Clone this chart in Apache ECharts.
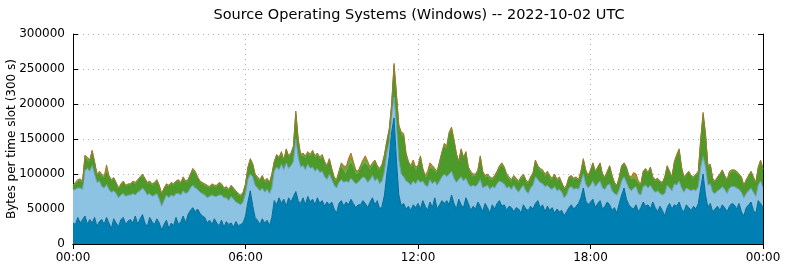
<!DOCTYPE html>
<html>
<head>
<meta charset="utf-8">
<script src="https://cdn.jsdelivr.net/npm/echarts@6/dist/echarts.min.js"></script>
<style>
html,body{margin:0;padding:0;background:#fff;}
#chart{width:785px;height:268px;}
</style>
</head>
<body>
<div id="chart"></div>
<script>
// Values in thousands of bytes per 5-minute slot (289 slots: 00:00 .. 24:00)
const darkBlueK = [
30,28,38,30,35,40,28,35,30,38,25,32,
35,28,38,30,22,36,30,25,35,38,28,33,
35,30,40,28,36,42,30,25,38,32,28,36,
30,20,28,34,22,30,26,38,28,32,40,30,
42,48,52,46,50,44,40,38,30,34,28,36,
30,26,34,24,32,28,30,24,32,26,28,30,
40,60,76,55,38,34,28,36,30,34,26,38,
62,56,66,58,64,54,66,60,68,75,62,58,
66,56,68,60,64,56,66,58,62,54,60,56,
60,50,44,58,62,54,60,56,64,58,52,56,
56,62,58,52,60,66,56,62,50,54,70,100,
125,160,180,120,70,55,58,50,54,48,56,52,
58,50,62,54,48,60,52,66,50,56,62,58,
62,56,70,58,50,64,56,52,66,58,48,54,
50,60,54,46,58,52,44,56,50,58,62,54,
56,48,54,52,46,52,50,44,56,50,48,54,
50,58,62,52,56,46,54,48,52,44,50,46,
48,40,46,52,56,50,54,58,66,80,62,56,
60,64,52,58,62,50,54,60,56,48,52,44,
58,70,80,64,56,52,50,56,46,52,60,54,
56,50,60,52,46,54,48,40,52,58,50,56,
54,60,50,46,56,52,48,54,50,58,80,100,
70,52,58,46,50,54,48,56,52,46,54,58,
56,50,58,46,40,52,56,60,48,44,62,58,
52];
const lightBlueK = [
47,50,42,50,43,65,80,69,82,62,63,58,
47,52,47,48,52,40,42,41,35,34,40,37,
35,42,30,46,40,38,46,45,34,36,42,36,
34,34,34,36,44,40,42,34,44,38,36,42,
32,32,32,34,28,30,32,32,36,34,42,32,
38,44,36,42,34,34,38,40,28,32,28,30,
32,32,24,41,46,46,48,44,44,44,46,42,
42,54,40,56,42,62,42,52,50,75,62,52,
46,50,46,48,46,48,42,44,42,42,32,44,
32,34,36,30,30,34,30,32,30,32,34,32,
36,34,36,36,32,32,34,32,36,36,34,30,
20,25,30,50,50,45,38,40,34,36,34,34,
34,38,28,30,34,32,34,24,34,34,34,42,
34,44,34,36,38,28,40,38,28,28,34,30,
32,26,38,34,24,32,34,26,30,28,28,34,
30,32,28,26,38,26,24,36,28,26,24,26,
34,38,30,36,30,36,30,32,26,38,26,32,
26,26,24,28,26,28,26,20,22,20,24,24,
24,26,30,28,28,30,24,24,30,28,20,26,
20,20,16,24,24,24,30,26,26,18,22,30,
24,34,18,22,30,18,22,32,32,22,26,30,
30,30,30,28,24,26,28,24,26,24,30,25,
40,32,28,28,22,22,30,26,26,26,26,24,
26,30,20,28,26,20,20,20,26,24,22,32,
28];
const darkGreenK = [
4,7,8.5,10,9,17,11,11.5,17,14.5,9,10.5,
14.5,12,17,16.5,15,16,13,11,12.5,15,13,13,
13,15,14.5,15,17,16,15,15,15,14.5,15,17,
17,15,15,13,15,15,15,15,17,15,16.5,15,
15,16.5,20,20.5,15,13,13,13,15,11,13,13,
13,15,13,11,13,13,13,13,13,11,11,11,
11,14.5,18,15.5,13,13,13,15,13,13,13,17,
11,15,15,14.5,11,16.5,15,15,17.5,33,21,15,
13.5,16,13.5,16,19.5,18,18,18,19.5,18,16,18,
12,8,8,10.5,17,15,9,20,21,18,13,10.5,
14,16,21,22,12,12.5,25.5,14,18,20,19.5,13,
15,9,40,39,44,55,57,35.5,26,24,23,16,
15.5,33.5,14,10,14,15,21,14,16,23.5,31.5,39,
39,55,57.5,51,37.5,22,35.5,30,33.5,20,18,12,
14,16,29.5,20,12,12,14,8,14,14,17.5,23.5,
20,16,10,10,10,12,12,12,12,12,12,12,
14,19.5,16,16,16,14,16,14,12,14,12,14,
11,11,11,13,13,13,13,11,12.5,18,17,15,
19,23,19,21,23,17,15,17,23,19,13,11,
15,19,17,19,15,15,13,8,13,13,19,21,
19,23,15,15,15,15,15,21,24.5,21,17,28.5,
40.5,42,27,19,17,23,19,15,21,19,35,57,
43,25,25,17,15,17,19,21,17,17,19,20.5,
21,21,19,19,15,17,19,21,19,17,22.5,26.5,
25];
const lightGreenK = [
2,2,2,2,2,3,3,3,3,2,2,2,
2,2,3,2,2,2,2,2,2,2,2,2,
2,2,2,2,2,2,2,2,2,2,2,2,
2,2,2,2,2,2,2,2,2,2,2,2,
2,2,2,2,2,2,2,2,2,2,2,2,
2,2,2,2,2,2,2,2,2,2,2,2,
2,2,2,2,2,2,2,2,2,2,2,2,
2,2,2,2,2,2,2,2,3,4,3,2,
3,3,3,3,3,3,3,3,3,3,3,3,
3,3,3,4,5,6,7,8,8,6,5,4,
4,5,6,5,4,4,3,3,3,3,3,3,
3,4,5,4,4,3,3,3,3,3,4,4,
3,3,3,3,4,4,3,3,3,3,3,3,
3,3,3,3,3,3,3,3,3,3,3,3,
3,3,3,3,3,3,3,3,3,3,3,3,
3,3,3,3,3,3,3,3,3,3,3,3,
3,3,3,3,3,3,3,3,3,3,3,3,
2,2,2,2,2,2,2,2,2,2,2,2,
2,2,2,2,2,2,2,2,2,2,2,2,
2,2,2,2,2,3,4,4,3,2,2,2,
2,2,2,2,2,2,2,2,2,2,2,2,
2,2,2,2,2,2,2,2,2,2,3,3,
3,2,2,2,2,2,2,2,2,2,2,2,
2,2,2,2,2,2,2,2,2,2,2,2,
2];
const orangeK = [
1,1,1.5,1,1,2,2,1.5,2,1.5,1,1.5,
1.5,2,8,1.5,1,1,1,1,1.5,1,1,1,
1,1,1.5,1,1,2,1,1,1,1.5,1,1,
1,1,1,1,1,1,1,1,1,1,1.5,1,
1,1.5,2,1.5,1,1,1,1,1,1,1,1,
1,1,1,1,1,1,1,1,1,1,1,1,
1,1.5,2,1.5,1,1,1,1,1,1,1,1,
1,1,1,1.5,1,1.5,1,1,1.5,3,2,1,
1.5,1,1.5,1,1.5,1,1,1,1.5,1,1,1,
1,1,1,1.5,2,3,4,6,7,4,2,1.5,
2,3,5,3,2,1.5,1.5,1,1,1,1.5,2,
2,2,3,2,2,2,2,1.5,1,1,3,4,
1.5,1.5,1,1,4,5,2,1,1,1.5,1.5,2,
2,2,2.5,2,1.5,1,1.5,1,1.5,1,1,1,
1,1,1.5,1,1,1,1,1,1,1,1.5,1.5,
1,1,1,1,1,1,1,1,1,1,1,1,
1,1.5,1,1,1,1,1,1,1,1,1,1,
1,1,1,1,1,1,1,1,1.5,2,1,1,
1,1,1,1,1,1,1,1,1,1,1,1,
1,1,1,1,1,2,5,6,2,1,1,1,
1,1,1,1,1,1,1,1,1.5,1,1,1.5,
1.5,2,1,1,1,1,1,1,1,1,2,3,
2,1,1,1,1,1,1,1,1,1,3,1.5,
1,1,1,1,1,1,1,1,1,1,1.5,1.5,
1];
const xTickLabels = ['00:00','06:00','12:00','18:00','00:00'];
const yTicks = [0,50000,100000,150000,200000,250000,300000];

// category labels for each 5-minute slot
const slots = [];
for (let i = 0; i < darkBlueK.length; i++) {
  const m = i * 5;
  const hh = String(Math.floor(m / 60) % 24).padStart(2, '0');
  const mm = String(m % 60).padStart(2, '0');
  slots.push(hh + ':' + mm);
}
const toBytes = a => a.map(v => v * 1000);

const FONT = 'DejaVu Sans';
const chart = echarts.init(document.getElementById('chart'), null, {renderer: 'canvas'});

function areaSeries(name, data, fill, edge, z) {
  return {
    name: name, type: 'line', stack: 'total', data: toBytes(data),
    symbol: 'none', smooth: false, z: z,
    lineStyle: {color: edge, width: 1},
    areaStyle: {color: fill, opacity: 1},
    emphasis: {disabled: true}
  };
}

const xCommon = {
  type: 'category', data: slots, boundaryGap: false,
  axisLine: {show: true, lineStyle: {color: '#000', width: 1}},
  axisTick: {show: true, inside: true, length: 5, interval: 71, lineStyle: {color: '#000'}},
  splitLine: {show: false}
};
const yCommon = {
  type: 'value', min: 0, max: 300000, interval: 50000,
  axisLine: {show: true, lineStyle: {color: '#000', width: 1}},
  axisTick: {show: true, inside: true, length: 5, lineStyle: {color: '#000'}}
};

chart.setOption({
  animation: false,
  backgroundColor: '#fff',
  title: {
    text: 'Source Operating Systems (Windows) -- 2022-10-02 UTC',
    left: 414, top: 3, textAlign: 'center',
    textStyle: {fontFamily: FONT, fontSize: 14.5, fontWeight: 'normal', color: '#000'}
  },
  grid: {left: 73, right: 22, top: 34, bottom: 24, containLabel: false, outerBoundsMode: 'none'},
  xAxis: [
    Object.assign({}, xCommon, {
      position: 'bottom',
      axisLabel: {
        show: true, interval: 71, margin: 8,
        fontFamily: FONT, fontSize: 12, color: '#000',
        formatter: (v, idx) => xTickLabels[Math.round(idx / 72)]
      },
      splitLine: {show: true, interval: 71, lineStyle: {color: '#b0b0b0', type: [1, 4], width: 1}}
    }),
    Object.assign({}, xCommon, {position: 'top', axisLabel: {show: false}})
  ],
  yAxis: [
    Object.assign({}, yCommon, {
      position: 'left',
      name: 'Bytes per time slot (300 s)', nameLocation: 'middle', nameGap: 55, nameRotate: 90,
      nameMoveOverlap: false,
      nameTextStyle: {fontFamily: FONT, fontSize: 12, color: '#000'},
      axisLabel: {fontFamily: FONT, fontSize: 12, color: '#000', margin: 8,
        formatter: v => yTicks.indexOf(v) >= 0 ? String(v) : ''},
      splitLine: {show: true, lineStyle: {color: '#b0b0b0', type: [1, 4], width: 1}}
    }),
    Object.assign({}, yCommon, {position: 'right', axisLabel: {show: false}, splitLine: {show: false}})
  ],
  series: [
    areaSeries('Dark blue', darkBlueK, '#0080b2', '#006a94', 2),
    areaSeries('Light blue', lightBlueK, '#8cc3e3', '#6f9fbd', 2),
    areaSeries('Dark green', darkGreenK, '#4c9a2a', '#468f27', 2),
    areaSeries('Light green', lightGreenK, '#6cb044', '#5fa03a', 2),
    areaSeries('Orange', orangeK, '#e07f10', '#9c7a2a', 2)
  ]
});
</script>
</body>
</html>
